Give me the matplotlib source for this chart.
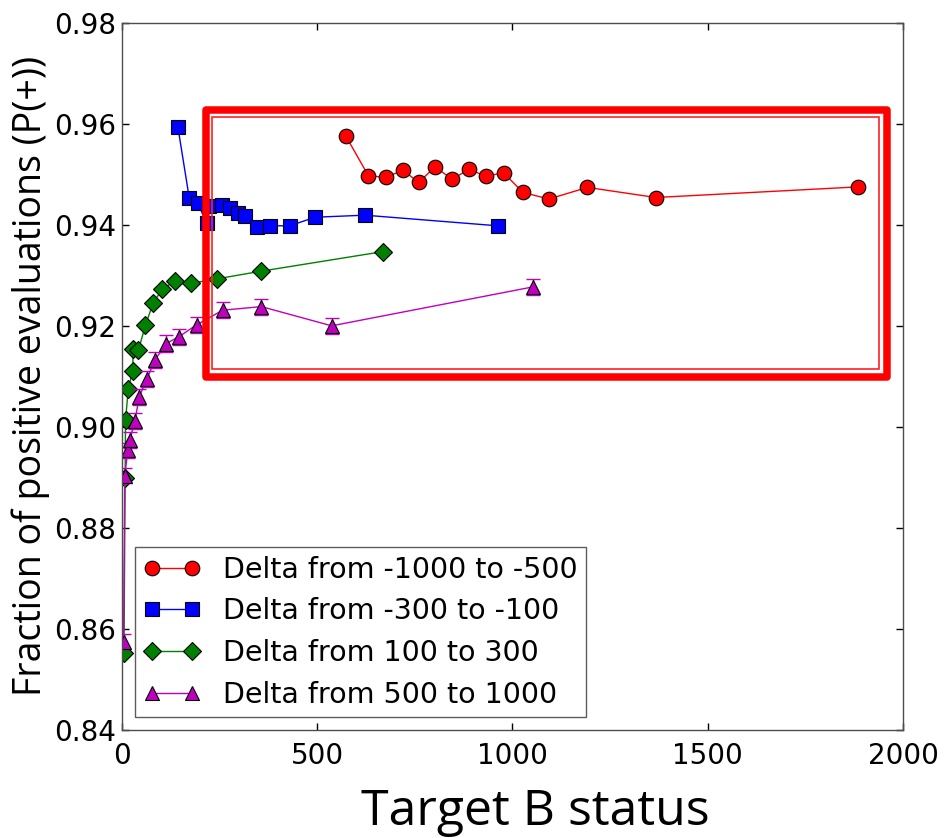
import matplotlib
matplotlib.use("Agg")
import matplotlib.pyplot as plt
from matplotlib.patches import Rectangle

# values
red_x = [573, 631, 676, 719, 760, 802, 845, 889, 931, 977, 1027, 1093, 1192, 1367, 1884]
red_y = [0.9576, 0.9497, 0.9494, 0.9508, 0.9484, 0.9515, 0.9490, 0.9510, 0.9496, 0.9503,
         0.9464, 0.9451, 0.9474, 0.9454, 0.9475]

blue_x = [143, 172, 194, 217, 224, 256, 277, 298, 316, 345, 379, 429, 495, 622, 962]
blue_y = [0.9594, 0.9454, 0.9443, 0.9403, 0.9437, 0.9440, 0.9434, 0.9424, 0.9418, 0.9396,
          0.9398, 0.9398, 0.9415, 0.9419, 0.9398]

green_x = [5, 8, 9, 16, 27, 29, 42, 60, 80, 103, 136, 176, 243, 355, 669]
green_y = [0.8553, 0.8898, 0.9013, 0.9075, 0.9110, 0.9155, 0.9152, 0.9201, 0.9246, 0.9272,
           0.9289, 0.9284, 0.9293, 0.9308, 0.9347]

purple_x = [4, 7, 15, 20, 33, 44, 63, 85, 113, 145, 191, 258, 357, 537, 1052]
purple_y = [0.8575, 0.8903, 0.8954, 0.8974, 0.9012, 0.9059, 0.9094, 0.9133, 0.9165, 0.9178,
            0.9202, 0.9231, 0.9238, 0.9200, 0.9277]
purple_err = [0.0015, 0.0015, 0.0015, 0.0015, 0.0016, 0.0016, 0.0016, 0.0016, 0.0016, 0.0016,
              0.0016, 0.0016, 0.0016, 0.0016, 0.0016]

labels = ["Delta from -1000 to -500", "Delta from -300 to -100",
          "Delta from 100 to 300", "Delta from 500 to 1000"]

x_ticks = [0, 500, 1000, 1500, 2000]
y_ticks = [0.84, 0.86, 0.88, 0.90, 0.92, 0.94, 0.96, 0.98]

plt.rcParams['font.family'] = ['DejaVu Sans']

fig = plt.figure(figsize=(9.51, 8.38), dpi=100)
ax = fig.add_axes([0.1283, 0.1289, 0.8212, 0.844])

ms = 10.5
ax.plot(red_x, red_y, '-o', color='r', lw=1, ms=ms, mec='k', mew=0.8, label=labels[0])
ax.plot(blue_x, blue_y, '-s', color='b', lw=1, ms=ms, mec='k', mew=0.8, label=labels[1])
ax.plot(green_x, green_y, '-D', color='g', lw=1, ms=ms - 1, mec='k', mew=0.8, label=labels[2])
# error bars for the last series, kept out of the legend
ax.errorbar(purple_x, purple_y, yerr=purple_err, fmt='none', ecolor='m',
            capsize=5, elinewidth=1)
ax.plot(purple_x, purple_y, '-^', color='m', lw=1, ms=ms, mec='k', mew=0.8, label=labels[3])

ax.set_xlim(0, 2000)
ax.set_ylim(0.84, 0.98)
ax.set_xticks(x_ticks)
ax.set_yticks(y_ticks)
ax.set_yticklabels([f"{v:.2f}" for v in y_ticks])
ax.tick_params(direction='in', length=5, width=1, labelsize=20, top=True, right=True)
ax.tick_params(axis='x', pad=9)
ax.tick_params(axis='y', pad=4)
for s in ax.spines.values():
    s.set_color('0.3')
    s.set_linewidth(1)

ax.set_ylabel("Fraction of positive evaluations (P(+))", fontsize=27,
              family=['Open Sans', 'DejaVu Sans'], labelpad=3)

# highlight box drawn over the plot
ax.add_patch(Rectangle((216, 0.90984), 1960 - 216, 0.96281 - 0.90984, fill=False,
                       ec='#ff0000', lw=5.4, joinstyle='round', clip_on=False, zorder=5))
ax.add_patch(Rectangle((230.5, 0.91143), 1938.5 - 230.5, 0.96139 - 0.91143, fill=False,
                       ec='#ff2020', lw=1.2, clip_on=False, zorder=5))

handles, labs = ax.get_legend_handles_labels()
leg = ax.legend(handles, labs, loc='lower left', fontsize=20.5, numpoints=2,
                handlelength=2.0, handletextpad=0.8, labelspacing=0.48,
                borderpad=0.3, borderaxespad=0.45, fancybox=False)
leg.get_frame().set_edgecolor('0.2')
leg.get_frame().set_linewidth(1)

fig.text(535 / 951, 1 - 825 / 838, "Target B status", fontsize=36,
         family=['Open Sans', 'DejaVu Sans'], ha='center', va='baseline')

fig.savefig("out.png", dpi=100)
